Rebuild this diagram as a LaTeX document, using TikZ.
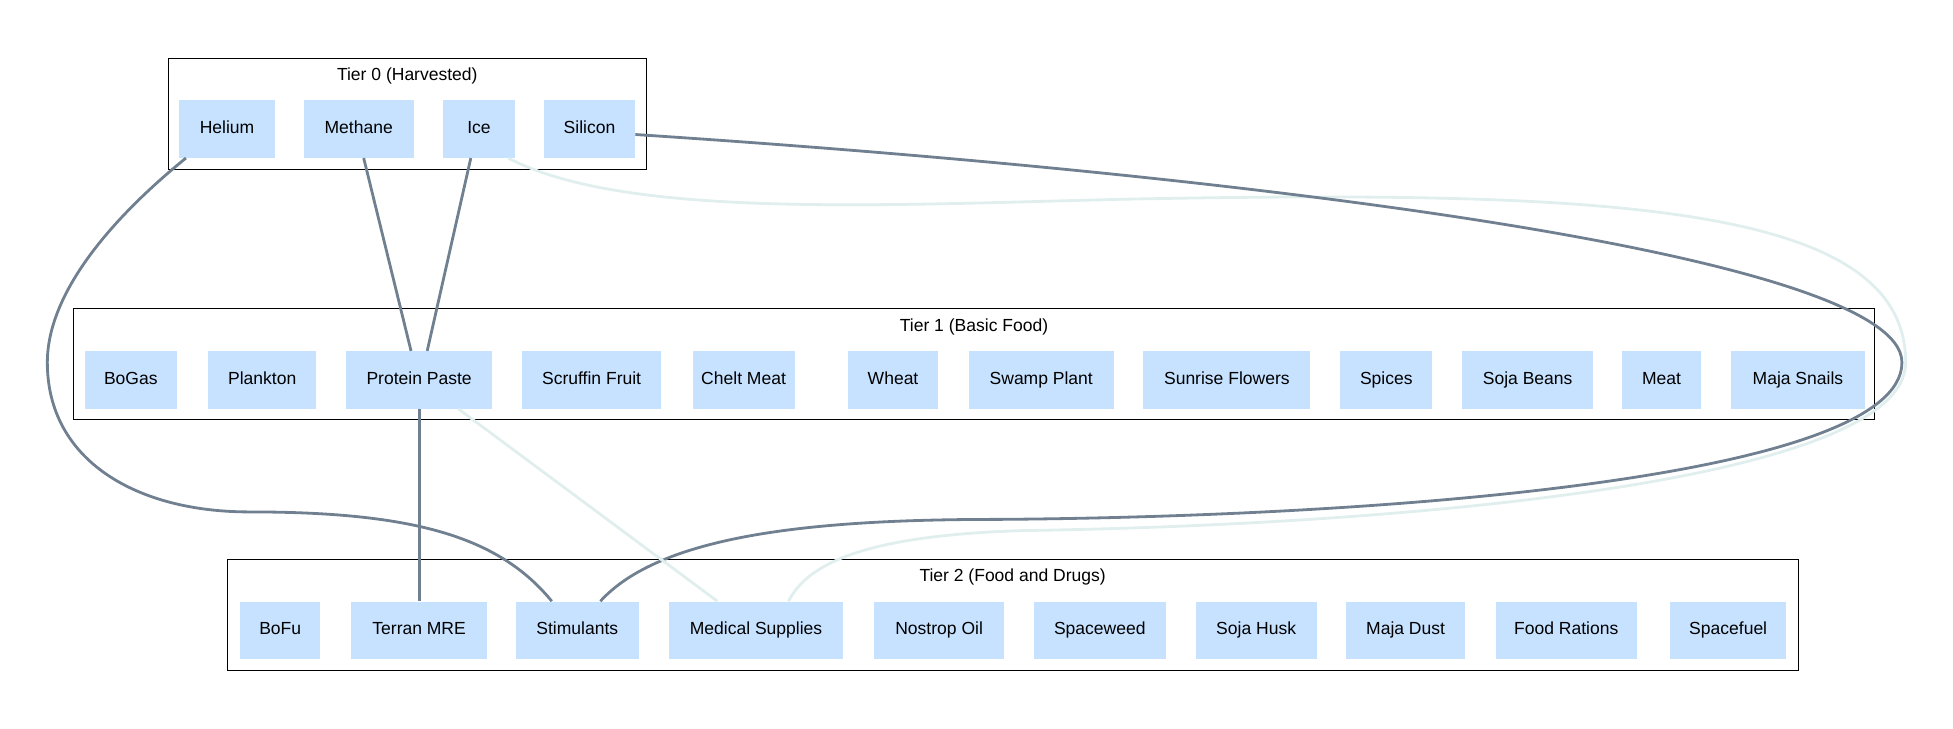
\documentclass[tikz,border=0pt]{standalone}
\usepackage{fontspec}
\setmainfont{Liberation Sans}
\usetikzlibrary{calc}
\definecolor{itemBlue}{RGB}{198, 226, 255}
\definecolor{linkGray}{RGB}{112, 128, 144}
\definecolor{linkPale}{RGB}{224, 238, 238}

\tikzset{
    item/.style={fill=itemBlue,inner sep=0pt,minimum height=1.15cm,text height=7.2pt,text depth=1.8pt,font=\fontsize{10}{12}\selectfont},
    tierbox/.style={draw=black,line width=0.6pt},
    tiertitle/.style={text height=7.2pt,text depth=1.8pt,font=\fontsize{10}{12}\selectfont},
    link/.style={draw=linkGray,line width=1.6pt},
    faint/.style={draw=linkPale,line width=1.6pt}
}

\begin{document}
\begin{tikzpicture}[x=0.025cm,y=-0.025cm]
            \useasboundingbox (0,0) rectangle (1568,585);
            % Tier boxes
            \draw[tierbox] (135,47) rectangle (519,136);
            \node[tiertitle] (t0) at (327,61) {Tier 0 (Harvested)};
            \draw[tierbox] (59,248) rectangle (1505,337);
            \node[tiertitle] (t1) at (782,262) {Tier 1 (Basic Food)};
            \draw[tierbox] (183,449) rectangle (1444,538);
            \node[tiertitle] (t2) at (813,463) {Tier 2 (Food and Drugs)};

            % Tier 0
            \node[item,minimum width=1.925cm] (helium) at (182.3,103.6) {Helium};
            \node[item,minimum width=2.2cm] (methane) at (288,103.6) {Methane};
            \node[item,minimum width=1.445cm] (ice) at (384.6,103.6) {Ice};
            \node[item,minimum width=1.825cm] (silicon) at (473.3,103.6) {Silicon};

            % Tier 1
            \node[item,minimum width=1.85cm] (bogas) at (105,305) {BoGas};
            \node[item,minimum width=2.175cm] (plankton) at (210.5,305) {Plankton};
            \node[item,minimum width=2.925cm] (paste) at (336.5,305) {Protein Paste};
            \node[item,minimum width=2.8cm] (scruffin) at (475,305) {Scruffin Fruit};
            \node[item,minimum width=2.05cm] (chelt) at (597,305) {Chelt Meat};
            \node[item,minimum width=1.8cm] (wheat) at (717,305) {Wheat};
            \node[item,minimum width=2.9cm] (swamp) at (836,305) {Swamp Plant};
            \node[item,minimum width=3.35cm] (sunrise) at (985,305) {Sunrise Flowers};
            \node[item,minimum width=1.85cm] (spices) at (1113,305) {Spices};
            \node[item,minimum width=2.625cm] (sojabeans) at (1226.5,305) {Soja Beans};
            \node[item,minimum width=1.6cm] (meat) at (1334,305) {Meat};
            \node[item,minimum width=2.675cm] (snails) at (1443.5,305) {Maja Snails};

            % Tier 2
            \node[item,minimum width=1.6cm] (bofu) at (225,506) {BoFu};
            \node[item,minimum width=2.725cm] (terran) at (336.5,506) {Terran MRE};
            \node[item,minimum width=2.475cm] (stim) at (463.5,506) {Stimulants};
            \node[item,minimum width=3.5cm] (medsup) at (607,506) {Medical Supplies};
            \node[item,minimum width=2.6cm] (nostrop) at (754,506) {Nostrop Oil};
            \node[item,minimum width=2.65cm] (spaceweed) at (883,506) {Spaceweed};
            \node[item,minimum width=2.425cm] (sojahusk) at (1008.5,506) {Soja Husk};
            \node[item,minimum width=2.375cm] (majadust) at (1128.5,506) {Maja Dust};
            \node[item,minimum width=2.825cm] (rations) at (1257.5,506) {Food Rations};
            \node[item,minimum width=2.325cm] (spacefuel) at (1387.5,506) {Spacefuel};

            % Links
            \draw[link] ($(helium.south)+(-33,0)$) .. controls (90,175) and (38,235) .. (38,291)
                .. controls (38,370) and (110,411) .. (200,411)
                .. controls (330,411) and (400,430) .. ($(stim.north)+(-20.5,0)$);
            \draw[link] ($(methane.south)+(4,0)$) -- ($(paste.north)+(-6.5,0)$);
            \draw[link] ($(ice.south)+(-6.6,0)$) -- ($(paste.north)+(6.5,0)$);
            \draw[faint] ($(ice.south)+(23.4,0)$) .. controls (500,175) and (700,165) .. (900,160)
                .. controls (1300,152) and (1530,165) .. (1530,291)
                .. controls (1530,390) and (1100,422) .. (820,426)
                .. controls (700,430) and (650,450) .. ($(medsup.north)+(26,0)$);
            \draw[link] ($(silicon.east)+(0,4.4)$) .. controls (1000,140) and (1527,205) .. (1527,291)
                .. controls (1527,385) and (1100,415) .. (800,417)
                .. controls (650,417) and (530,430) .. ($(stim.north)+(18.5,0)$);
            \draw[link] (paste.south) -- (terran.north);
            \draw[faint] ($(paste.south)+(31.5,0)$) -- ($(medsup.north)+(-31,0)$);
\end{tikzpicture}
\end{document}
